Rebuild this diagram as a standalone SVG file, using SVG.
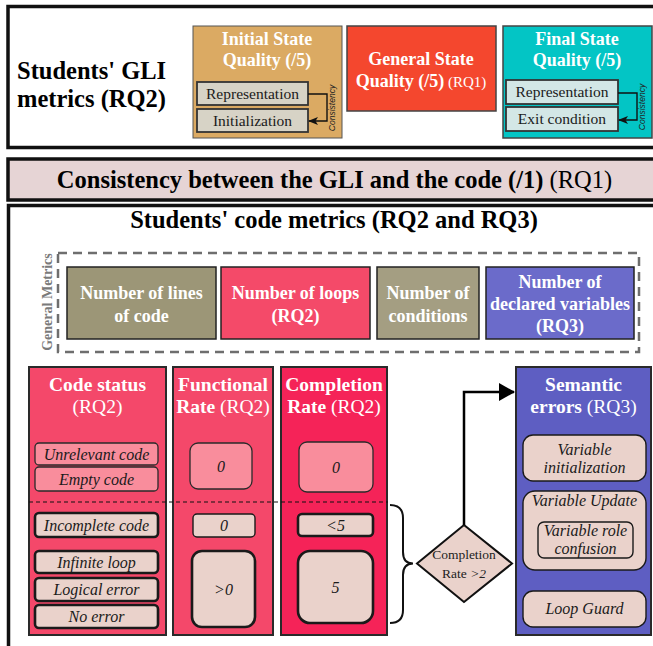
<svg xmlns="http://www.w3.org/2000/svg" width="653" height="646" viewBox="0 0 653 646" font-family="'Liberation Serif', 'Times New Roman', serif">
  <style>
    .b { font-weight: bold; }
    .n { font-weight: normal; }
    .w { fill: #ffffff; }
    .h18 { font-size: 18px; text-anchor: middle; }
    .h19 { font-size: 19.5px; text-anchor: middle; }
    .it { font-style: italic; font-size: 16px; fill: #1a1a1a; text-anchor: middle; }
    .frame { fill: #ffffff; stroke: #111111; stroke-width: 3.5; }
    .inner { font-size: 15.5px; fill: #1a1a1a; text-anchor: middle; }
    .col { stroke: #2a2a2a; stroke-width: 2; }
    .metric { stroke: #222222; stroke-width: 1.5; }
    .lite { fill: #f98d9c; stroke: #2a2a2a; stroke-width: 1.3; }
    .pale { fill: #ead2cb; stroke: #1a1a1a; stroke-width: 2.6; }
    .paleThin { fill: #ead2cb; stroke: #1a1a1a; stroke-width: 1.4; }
    .cons { font-style: italic; font-size: 8.5px; fill: #222; text-anchor: middle; }
    .link { fill: none; stroke: #111111; stroke-width: 1.4; }
  </style>
  <defs>
    <marker id="arrSmall" markerWidth="10" markerHeight="8" refX="9" refY="4" orient="auto" markerUnits="userSpaceOnUse">
      <path d="M0,0 L10,4 L0,8 L2.5,4 Z" fill="#111111"/>
    </marker>
    <marker id="arrBig" markerWidth="16" markerHeight="18" refX="15" refY="9" orient="auto" markerUnits="userSpaceOnUse">
      <path d="M0,0 L16,9 L0,18 Z" fill="#000000"/>
    </marker>
  </defs>

  <rect width="653" height="646" fill="#ffffff"/>

  <!-- section frames -->
  <g id="frames">
    <rect class="frame" x="8" y="6.5" width="700" height="141"/>
    <rect x="8" y="159" width="700" height="41" fill="#e6d4d5" stroke="#111111" stroke-width="3.5"/>
    <rect class="frame" x="8.5" y="205.5" width="700" height="500" stroke-width="3"/>
  </g>

  <!-- GLI metrics -->
  <g id="gli-title">
    <text class="b" x="17" y="79" font-size="24.5">Students' GLI</text>
    <text class="b" x="17" y="107" font-size="24.5">metrics (RQ2)</text>
  </g>

  <g id="initial-state">
    <rect x="193" y="26" width="149" height="112" fill="#dbaa63" stroke="#555555" stroke-width="1"/>
    <text class="b w h18" x="267" y="45">Initial State</text>
    <text class="b w h18" x="267" y="66">Quality (/5)</text>
    <rect x="197" y="82" width="111" height="23" fill="#d7d3c6" stroke="#333333" stroke-width="1.8"/>
    <text class="inner" x="252.5" y="98.5">Representation</text>
    <rect x="197" y="109" width="111" height="23" fill="#d7d3c6" stroke="#333333" stroke-width="1.8"/>
    <text class="inner" x="252.5" y="125.5">Initialization</text>
    <text class="cons" font-family="'Liberation Sans', Arial, sans-serif" transform="translate(335,108) rotate(-90)">Consistency</text>
  </g>

  <g id="general-state">
    <rect x="347" y="26" width="149" height="85" fill="#f4472e" stroke="#444444" stroke-width="1.5"/>
    <text class="b w h18" x="421" y="65">General State</text>
    <text class="b w h18" x="421" y="87">Quality (/5)<tspan class="n" font-size="15"> (RQ1)</tspan></text>
  </g>

  <g id="final-state">
    <rect x="503" y="26" width="149" height="112" fill="#03c5c5" stroke="#444444" stroke-width="1.5"/>
    <text class="b w h18" x="577" y="45">Final State</text>
    <text class="b w h18" x="577" y="66">Quality (/5)</text>
    <rect x="506" y="80" width="112" height="24" fill="#d3e7e6" stroke="#333333" stroke-width="1.8"/>
    <text class="inner" x="562" y="97">Representation</text>
    <rect x="506" y="107" width="112" height="24" fill="#d3e7e6" stroke="#333333" stroke-width="1.8"/>
    <text class="inner" x="562" y="124">Exit condition</text>
    <text class="cons" font-family="'Liberation Sans', Arial, sans-serif" transform="translate(645,107) rotate(-90)">Consistency</text>
  </g>

  <!-- GLI / code consistency -->
  <g id="consistency">
    <text class="b" x="334.5" y="187.5" font-size="24.5" text-anchor="middle">Consistency between the GLI and the code (/1)<tspan class="n"> (RQ1)</tspan></text>
  </g>

  <!-- code metrics -->
  <g id="code-title">
    <text class="b" x="334" y="228" font-size="24.5" text-anchor="middle">Students' code metrics (RQ2 and RQ3)</text>
  </g>

  <g id="general-metrics">
    <rect x="58" y="253" width="581" height="99" fill="none" stroke="#6e6e6e" stroke-width="2.5" stroke-dasharray="9 6"/>
    <text class="b" transform="translate(52,302) rotate(-90)" font-size="14" fill="#7a7a7a" text-anchor="middle">General Metrics</text>
  </g>

  <g id="lines-of-code">
    <rect class="metric" x="67" y="267" width="149" height="72" fill="#9c9677"/>
    <text class="b w h18" x="141.5" y="299">Number of lines</text>
    <text class="b w h18" x="141.5" y="322">of code</text>
  </g>

  <g id="loops">
    <rect class="metric" x="221" y="267" width="149" height="72" fill="#f44a69"/>
    <text class="b w h18" x="295.5" y="299">Number of loops</text>
    <text class="b w h18" x="295.5" y="322">(RQ2)</text>
  </g>

  <g id="conditions">
    <rect class="metric" x="377" y="267" width="102" height="72" fill="#a49e82"/>
    <text class="b w h18" x="428" y="299">Number of</text>
    <text class="b w h18" x="428" y="322">conditions</text>
  </g>

  <g id="declared-variables">
    <rect class="metric" x="486" y="267" width="148" height="72" fill="#6b6bca"/>
    <text class="b w h18" x="560" y="288">Number of</text>
    <text class="b w h18" x="560" y="310">declared variables</text>
    <text class="b w h18" x="560" y="332">(RQ3)</text>
  </g>

  <g id="code-status">
    <rect class="col" x="29" y="367" width="137" height="268" fill="#f4486a"/>
    <text class="b w h19" x="97.5" y="391">Code status</text>
    <text class="w h19" x="97.5" y="413">(RQ2)</text>
    <rect class="lite" x="35" y="443" width="123" height="22" rx="4"/>
    <text class="it" x="96.5" y="459.5">Unrelevant code</text>
    <rect class="lite" x="35" y="467" width="123" height="24" rx="4"/>
    <text class="it" x="96.5" y="484.5">Empty code</text>
    <rect class="pale" x="35" y="513" width="123" height="24" rx="4"/>
    <text class="it" x="96.5" y="530.5">Incomplete code</text>
    <rect class="pale" x="35" y="551" width="123" height="22" rx="4"/>
    <text class="it" x="96.5" y="567.5">Infinite loop</text>
    <rect class="pale" x="35" y="578" width="123" height="23" rx="4"/>
    <text class="it" x="96.5" y="595">Logical error</text>
    <rect class="pale" x="35" y="605" width="123" height="23" rx="4"/>
    <text class="it" x="96.5" y="622">No error</text>
  </g>

  <g id="functional-rate">
    <rect class="col" x="173" y="367" width="100" height="268" fill="#f4486a"/>
    <text class="b w h19" x="223" y="391">Functional</text>
    <text class="b w h19" x="223" y="413">Rate<tspan class="n"> (RQ2)</tspan></text>
    <rect class="lite" x="190" y="443" width="62" height="46" rx="8"/>
    <text class="it" x="221" y="472">0</text>
    <rect class="paleThin" x="193" y="514" width="62" height="23" rx="4" stroke-width="1.8"/>
    <text class="it" x="224" y="531">0</text>
    <rect class="pale" x="192" y="551" width="63" height="76" rx="10"/>
    <text class="it" x="223.5" y="594.5">&gt;0</text>
  </g>

  <g id="completion-rate">
    <rect class="col" x="281" y="367" width="106" height="268" fill="#f52358"/>
    <text class="b w h19" x="334" y="391">Completion</text>
    <text class="b w h19" x="334" y="413">Rate<tspan class="n"> (RQ2)</tspan></text>
    <rect class="lite" x="299" y="442" width="74" height="50" rx="8"/>
    <text class="it" x="336" y="472.5">0</text>
    <rect class="pale" x="298" y="514" width="75" height="22" rx="4"/>
    <text class="it" x="335.5" y="530.5">&lt;5</text>
    <rect class="pale" x="298" y="551" width="75" height="72" rx="12"/>
    <text class="it" x="335.5" y="592.5">5</text>
  </g>

  <g id="completion-check">
    <polygon points="464,525 512,563.5 464,602 417,563.5" fill="#ead2cb" stroke="#111111" stroke-width="2"/>
    <text x="464" y="559" font-size="13.5" fill="#222" text-anchor="middle">Completion</text>
    <text x="464" y="578" font-size="13.5" fill="#222" text-anchor="middle">Rate <tspan font-style="italic">&gt;2</tspan></text>
  </g>

  <g id="semantic-errors">
    <rect class="col" x="516" y="367" width="135" height="268" fill="#5e5ec2"/>
    <text class="b w h19" x="583.5" y="391">Semantic</text>
    <text class="b w h19" x="583.5" y="413">errors<tspan class="n"> (RQ3)</tspan></text>
    <rect class="paleThin" x="523" y="435" width="123" height="46" rx="10"/>
    <text class="it" x="584.5" y="455">Variable</text>
    <text class="it" x="584.5" y="473">initialization</text>
    <rect class="paleThin" x="523" y="491" width="123" height="79" rx="12"/>
    <text class="it" x="584.5" y="506">Variable Update</text>
    <rect class="paleThin" x="538" y="522" width="95" height="36" rx="6"/>
    <text class="it" x="585.5" y="536">Variable role</text>
    <text class="it" x="585.5" y="554">confusion</text>
    <rect class="paleThin" x="523" y="591" width="123" height="36" rx="10"/>
    <text class="it" x="584.5" y="614">Loop Guard</text>
  </g>

  <!-- connectors -->
  <g id="connectors">
    <polyline class="link" points="308,94 327,94 327,121 309,121" marker-end="url(#arrSmall)"/>
    <polyline class="link" points="618,93 637,93 637,120 619,120" marker-end="url(#arrSmall)"/>
    <line x1="29" y1="502" x2="388" y2="502" stroke="#111111" stroke-width="1.2" stroke-dasharray="4 3"/>
    <path d="M390,505 Q403,505 403,518 L403,552 Q403,563.5 413,563.5 Q403,563.5 403,575 L403,610 Q403,623 390,623" fill="none" stroke="#111111" stroke-width="2"/>
    <polyline points="464,525 464,392 514,392" fill="none" stroke="#000000" stroke-width="2.5" marker-end="url(#arrBig)"/>
  </g>
</svg>
